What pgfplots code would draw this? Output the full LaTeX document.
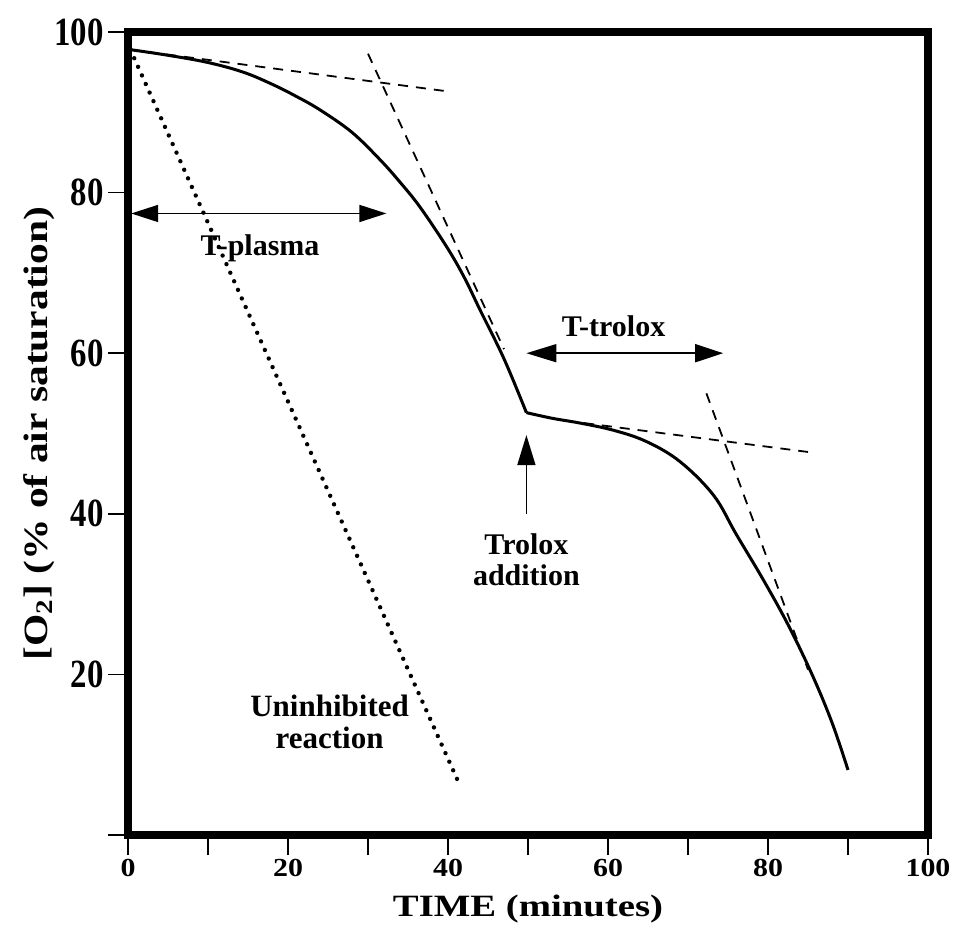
\documentclass[border=0pt]{standalone}
\usepackage{fontspec}
\setmainfont{Liberation Serif}
\newfontfamily\ytickfont{Liberation Serif}[FakeStretch=0.82]
\newfontfamily\xtickfont{Liberation Serif}[FakeStretch=1.15]
\newfontfamily\xlabfont{Liberation Serif}[FakeStretch=1.25]
\newfontfamily\ylabfont{Liberation Serif}[FakeStretch=1.22]
\usepackage{pgfplots}
\pgfplotsset{compat=1.18}
\usetikzlibrary{arrows.meta}

\begin{document}
\begin{tikzpicture}
\useasboundingbox (-64pt,-46.5pt) rectangle (415pt,417.5pt);
\begin{axis}[
  at={(0pt,0pt)}, anchor=south west,
  width=400pt, height=401.5pt, scale only axis,
  xmin=0, xmax=100, ymin=0, ymax=100,
  axis line style={line width=4pt, line join=miter},
  xtick={0,10,...,100},
  xticklabels={0,,20,,40,,60,,80,,100},
  ytick={0,20,...,100},
  yticklabels={,20,40,60,80,100},
  xtick pos=left, ytick pos=left,
  tick align=outside, major tick length=10pt,
  every tick/.style={black, line width=0.9pt},
  xticklabel style={font=\xtickfont\fontsize{13}{15}\selectfont\bfseries, inner sep=2pt},
  yticklabel style={font=\ytickfont\fontsize{20}{22}\selectfont\bfseries, inner sep=2pt},
  /pgf/number format/assume math mode=true,
  xlabel={TIME (minutes)},
  xlabel style={at={(axis description cs:0.5,-0.102)}, anchor=base, font=\xlabfont\fontsize{15.5}{17}\selectfont\bfseries},
  ylabel={[O\textsubscript{2}] (\% of air saturation)},
  ylabel style={at={(axis description cs:-0.101,0.5)}, anchor=base, font=\ylabfont\fontsize{17}{19}\selectfont\bfseries},
  clip=false,
]
% main O2 trace (before Trolox addition)
\addplot[black, line width=1.5pt, smooth, tension=0.6] coordinates {
  (0.3,97.8) (5,97.1) (10,96.2) (14.4,95.0) (18,93.5) (21,92.0) (24,90.3) (28,87.5)
  (31.5,84.1) (34,81.3) (36.5,78.2) (39.8,73.3) (42,69.5) (44,65.4) (47,59.3) (49.8,52.6)
};
% main O2 trace (after Trolox addition)
\addplot[black, line width=1.5pt, smooth, tension=0.6] coordinates {
  (49.8,52.6) (53,51.9) (56.5,51.3) (60.7,50.4) (64.8,49.0) (69,46.5) (73.2,42.3) (76,37.5)
  (79.4,31.8) (82.5,26.2) (85.5,20.0) (88,14.0) (90,8.1)
};
% tangent lines
\addplot[black, line width=0.9pt, dash pattern=on 5pt off 4pt] coordinates {(0.3,97.8) (40,92.6)};
\addplot[black, line width=0.9pt, dash pattern=on 5pt off 4pt] coordinates {(30,97.3) (47,60.5)};
\addplot[black, line width=0.9pt, dash pattern=on 5pt off 4pt] coordinates {(57,51.3) (85,47.7)};
\addplot[black, line width=0.9pt, dash pattern=on 5pt off 4pt] coordinates {(72.3,55.0) (85,20.6)};
% uninhibited reaction
\addplot[black, line width=2.2pt, line cap=round, dash pattern=on 0pt off 4.7pt] coordinates {(0.3,97.8) (41.3,6.6)};

% annotations
\draw[{Triangle[length=13.5pt,width=8.5pt]}-{Triangle[length=13.5pt,width=8.5pt]}, line width=0.8pt]
  (axis cs:0.4,77.4) -- (axis cs:32.3,77.4);
\node[anchor=base, font=\fontsize{15}{17}\selectfont\bfseries] at (axis cs:16.5,72.2) {T-plasma};
\draw[{Triangle[length=15pt,width=9pt]}-{Triangle[length=14pt,width=9pt]}, line width=0.8pt]
  (axis cs:49.8,60.0) -- (axis cs:74.4,60.0);
\node[anchor=base, font=\fontsize{15}{17}\selectfont\bfseries] at (axis cs:60.7,62.1) {T-trolox};
\draw[-{Triangle[length=15pt,width=9pt]}, line width=0.8pt]
  (axis cs:49.8,40.0) -- (axis cs:49.8,49.8);
\node[anchor=base, font=\fontsize{15}{17}\selectfont\bfseries] at (axis cs:49.8,34.9) {Trolox};
\node[anchor=base, font=\fontsize{15}{17}\selectfont\bfseries] at (axis cs:49.8,31.1) {addition};
\node[anchor=base, font=\fontsize{15.5}{17}\selectfont\bfseries] at (axis cs:25.2,14.7) {Uninhibited};
\node[anchor=base, font=\fontsize{15.5}{17}\selectfont\bfseries] at (axis cs:25.2,10.8) {reaction};
\end{axis}
\end{tikzpicture}
\end{document}
